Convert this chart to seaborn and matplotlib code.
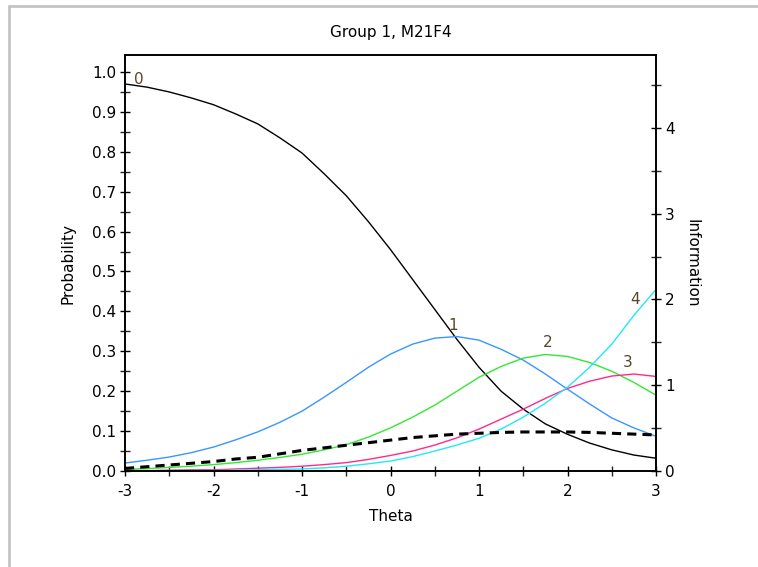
import matplotlib
matplotlib.use("Agg")
import matplotlib.pyplot as plt
import seaborn as sns
import numpy as np
import pandas as pd
from matplotlib.lines import Line2D
from matplotlib.ticker import MultipleLocator, FormatStrFormatter

theta = [-3.0, -2.75, -2.5, -2.25, -2.0, -1.75, -1.5, -1.25, -1.0, -0.75, -0.5, -0.25,
         0.0, 0.25, 0.5, 0.75, 1.0, 1.25, 1.5, 1.75, 2.0, 2.25, 2.5, 2.75, 3.0]

cat0 = [0.970, 0.962, 0.950, 0.935, 0.918, 0.895, 0.870, 0.835, 0.797, 0.745, 0.690, 0.625,
        0.555, 0.480, 0.405, 0.330, 0.260, 0.200, 0.155, 0.118, 0.092, 0.070, 0.053, 0.040, 0.032]
cat1 = [0.020, 0.027, 0.035, 0.046, 0.060, 0.078, 0.098, 0.122, 0.150, 0.185, 0.222, 0.260,
        0.293, 0.318, 0.333, 0.337, 0.328, 0.305, 0.278, 0.243, 0.205, 0.168, 0.133, 0.108, 0.087]
cat2 = [0.004, 0.006, 0.009, 0.012, 0.016, 0.021, 0.027, 0.034, 0.042, 0.053, 0.066, 0.085,
        0.108, 0.135, 0.165, 0.200, 0.235, 0.262, 0.283, 0.292, 0.287, 0.272, 0.250, 0.222, 0.190]
cat3 = [0.001, 0.001, 0.002, 0.003, 0.003, 0.005, 0.007, 0.009, 0.012, 0.016, 0.021, 0.029,
        0.039, 0.050, 0.065, 0.083, 0.105, 0.130, 0.155, 0.182, 0.207, 0.225, 0.238, 0.243, 0.237]
cat4 = [0.000, 0.000, 0.001, 0.001, 0.001, 0.002, 0.003, 0.004, 0.005, 0.008, 0.012, 0.018,
        0.025, 0.036, 0.050, 0.065, 0.082, 0.105, 0.135, 0.170, 0.210, 0.260, 0.318, 0.390, 0.455]
information = [0.03, 0.05, 0.07, 0.09, 0.11, 0.14, 0.16, 0.20, 0.24, 0.27, 0.30, 0.33,
               0.36, 0.39, 0.41, 0.43, 0.44, 0.45, 0.455, 0.455, 0.455, 0.45, 0.44, 0.43, 0.42]

categories = ["0", "1", "2", "3", "4"]
series = [cat0, cat1, cat2, cat3, cat4]
colors = ["#000000", "#3a95ff", "#33e833", "#ff2a8c", "#22e8f8"]
label_pos = [(-2.84, 0.962), (0.71, 0.345), (1.78, 0.303), (2.68, 0.253), (2.76, 0.41)]

sns.set_style("white")
plt.rcParams['font.family'] = ['DejaVu Sans']
plt.rcParams['axes.unicode_minus'] = False
plt.rcParams['text.color'] = 'black'
plt.rcParams['axes.labelcolor'] = 'black'

FS = 11

fig = plt.figure(figsize=(7.58, 5.67), dpi=100)
ax = fig.add_axes([125/758, 1-471/567, (656-125)/758, (471-55)/567])

for cat, vals, col in zip(categories, series, colors):
    df = pd.DataFrame({"Theta": theta, "Probability": vals})
    sns.lineplot(data=df, x="Theta", y="Probability", ax=ax, color=col, linewidth=1.0)

for cat, (lx, ly) in zip(categories, label_pos):
    ax.text(lx, ly, cat, fontsize=FS, color="#5a4428", ha="center", va="bottom")

ax.set_xlim(-3, 3)
ax.set_ylim(0, 1.0426)
ax.xaxis.set_major_locator(MultipleLocator(1))
ax.xaxis.set_minor_locator(MultipleLocator(0.5))
ax.yaxis.set_minor_locator(MultipleLocator(0.05))
ax.set_yticks(np.arange(0, 1.01, 0.1))
ax.yaxis.set_major_formatter(FormatStrFormatter('%.1f'))
ax.tick_params(axis='both', which='major', direction='inout', length=7, width=1,
               labelsize=FS, colors='black', pad=3, left=True, bottom=True)
ax.tick_params(axis='x', which='major', pad=6)
ax.tick_params(axis='both', which='minor', direction='inout', length=7, width=1,
               left=True, bottom=True)
ax.set_xlabel("Theta", fontsize=FS, labelpad=7, color='black')
ax.set_ylabel("Probability", fontsize=FS, labelpad=12, color='black')
ax.set_title("Group 1, M21F4", fontsize=FS, pad=13, color='black')
for s in ax.spines.values():
    s.set_color("black")
    s.set_linewidth(1.2)

ax2 = ax.twinx()
dfi = pd.DataFrame({"Theta": theta, "Information": information})
sns.lineplot(data=dfi, x="Theta", y="Information", ax=ax2, color="black",
             linewidth=2.2, linestyle=(0, (3, 2)))
ax2.set_ylim(0, 4.85)
ax2.set_xlim(-3, 3)
ax2.yaxis.set_major_locator(MultipleLocator(1))
ax2.yaxis.set_minor_locator(MultipleLocator(0.5))
ax2.tick_params(axis='y', which='major', direction='inout', length=7, width=1,
                labelsize=FS, colors='black', pad=3, right=True)
ax2.tick_params(axis='y', which='minor', direction='inout', length=7, width=1, right=True)
ax2.set_ylabel("Information", fontsize=FS, rotation=270, labelpad=18, color='black')
for s in ax2.spines.values():
    s.set_color("black")
    s.set_linewidth(1.2)

# window frame lines
fig.add_artist(Line2D([9/758, 1.0], [1-6/567, 1-6/567], transform=fig.transFigure,
                      color="#c4c4c4", linewidth=2))
fig.add_artist(Line2D([9/758, 9/758], [0, 1-6/567], transform=fig.transFigure,
                      color="#c4c4c4", linewidth=2))

fig.savefig("out.png", dpi=100)
